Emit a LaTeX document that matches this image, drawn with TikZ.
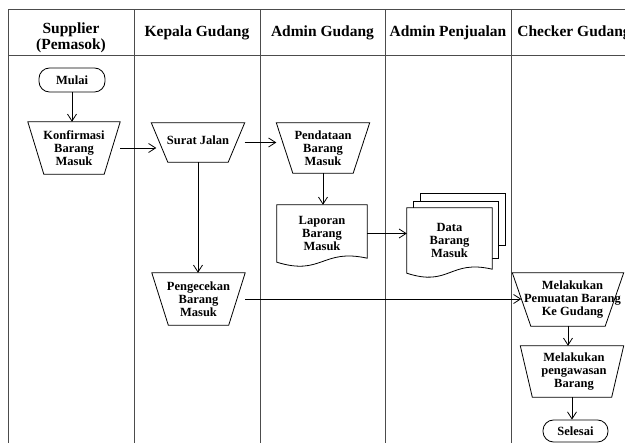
\documentclass[tikz,border=0pt]{standalone}
\usepackage{fontspec}
\setmainfont{Liberation Serif}
\usetikzlibrary{arrows.meta,calc,backgrounds}
\tikzset{
 lane/.style={draw=black!70, line width=0.8pt},
 hdr/.style={font=\fontsize{15.5}{16}\selectfont\bfseries, align=center, inner sep=0pt},
 box/.style={rectangle, inner sep=0pt, align=center, font=\fontsize{12.5}{13}\selectfont\bfseries},
 term/.style={box, draw, line width=0.8pt, rounded corners=10.5pt},
 outline/.style={draw, line width=0.8pt},
 arr/.style={draw, line width=0.8pt, -{Straight Barb[length=7pt,width=9pt]}},
}
\newcommand\trapz[2]{\draw[outline] (#1.north west) -- (#1.north east) -- ([xshift=-#2pt]#1.south east) -- ([xshift=#2pt]#1.south west) -- cycle;}
\newcommand\docwave[1]{\draw[outline, fill=white] (#1.north west) -- (#1.north east) -- ([yshift=4pt]#1.south east) .. controls ([yshift=14pt]#1.south) and ([yshift=-14pt]#1.south) .. (#1.south west) -- cycle;}
\begin{document}
\begin{tikzpicture}[x=1pt,y=-1pt]
\useasboundingbox (0,0) rectangle (625,443);
\clip (0,0) rectangle (625,443);
% swimlane table
\draw[lane] (8,460) -- (8,9.5) -- (660,9.5);
\draw[lane] (8,55) -- (660,55);
\foreach \x in {134,260,385.5,511} \draw[lane] (\x,9.5) -- (\x,460);
% headers
\node[hdr] (h1) at (71,38) {Supplier\\(Pemasok)};
\node[hdr] (h2) at (197,32.5) {Kepala Gudang};
\node[hdr] (h3) at (322.5,32.5) {Admin Gudang};
\node[hdr] (h4) at (448,32.5) {Admin Penjualan};
\node[hdr] (h5) at (574,32.5) {Checker Gudang};
% nodes
\node[term, minimum width=66pt, minimum height=24pt] (mulai) at (72,80) {Mulai};
\node[box, minimum width=92pt, minimum height=52pt] (konf) at (74,148) {Konfirmasi\\Barang\\Masuk};
\trapz{konf}{16}
\node[box, minimum width=93pt, minimum height=39pt, text depth=5pt] (surat) at (198,142.5) {Surat Jalan};
\trapz{surat}{16.5}
\node[box, minimum width=93pt, minimum height=50pt] (pend) at (323,148) {Pendataan\\Barang\\Masuk};
\trapz{pend}{16.5}
\node[box, minimum width=90pt, minimum height=57pt] (lap) at (322,233.5) {Laporan\\Barang\\Masuk};
\node[box, minimum width=85pt, minimum height=65pt] (data) at (449.5,240.5) {Data\\Barang\\Masuk};
\node[box, minimum width=93pt, minimum height=52pt] (cek) at (198.5,299) {Pengecekan\\Barang\\Masuk};
\trapz{cek}{16.5}
\node[box, minimum width=111pt, minimum height=53pt] (muat) at (568,299.5) {\hspace*{9pt}Melakukan\\\hspace*{9pt}Pemuatan Barang\\\hspace*{9pt}Ke Gudang};
\trapz{muat}{18.5}
\node[box, minimum width=103pt, minimum height=51pt] (awas) at (572,371.5) {\hspace*{4pt}Melakukan\\\hspace*{4pt}pengawasan\\\hspace*{4pt}Barang};
\trapz{awas}{12}
\node[term, minimum width=65pt, minimum height=22pt] (sel) at (575.5,431) {Selesai};
% document outlines
\begin{scope}[on background layer]
\node[outline, fill=white, inner sep=0pt, minimum width=85pt, minimum height=52pt] (data3) at (462.5,219) {};
\node[outline, fill=white, inner sep=0pt, minimum width=85pt, minimum height=57pt] (data2) at (455.5,229.5) {};
\docwave{data}
\docwave{lap}
\end{scope}
% connectors
\draw[arr] (mulai.south) -- (mulai.south |- konf.north);
\draw[arr] (konf.east) -- ($(konf.east -| surat.west)+(5,0)$);
\draw[arr] (surat.east) -- (surat.east -| pend.west);
\draw[arr] (surat.south) -- (surat.south |- cek.north);
\draw[arr] (pend.south) -- (pend.south |- lap.north);
\draw[arr] (lap.east) -- (lap.east -| data.west);
\draw[arr] (cek.east) -- ($(cek.east -| muat.west)+(9,0)$);
\draw[arr] (muat.south) -- (muat.south |- awas.north);
\draw[arr] (awas.south) -- (awas.south |- sel.north);
\end{tikzpicture}
\end{document}
